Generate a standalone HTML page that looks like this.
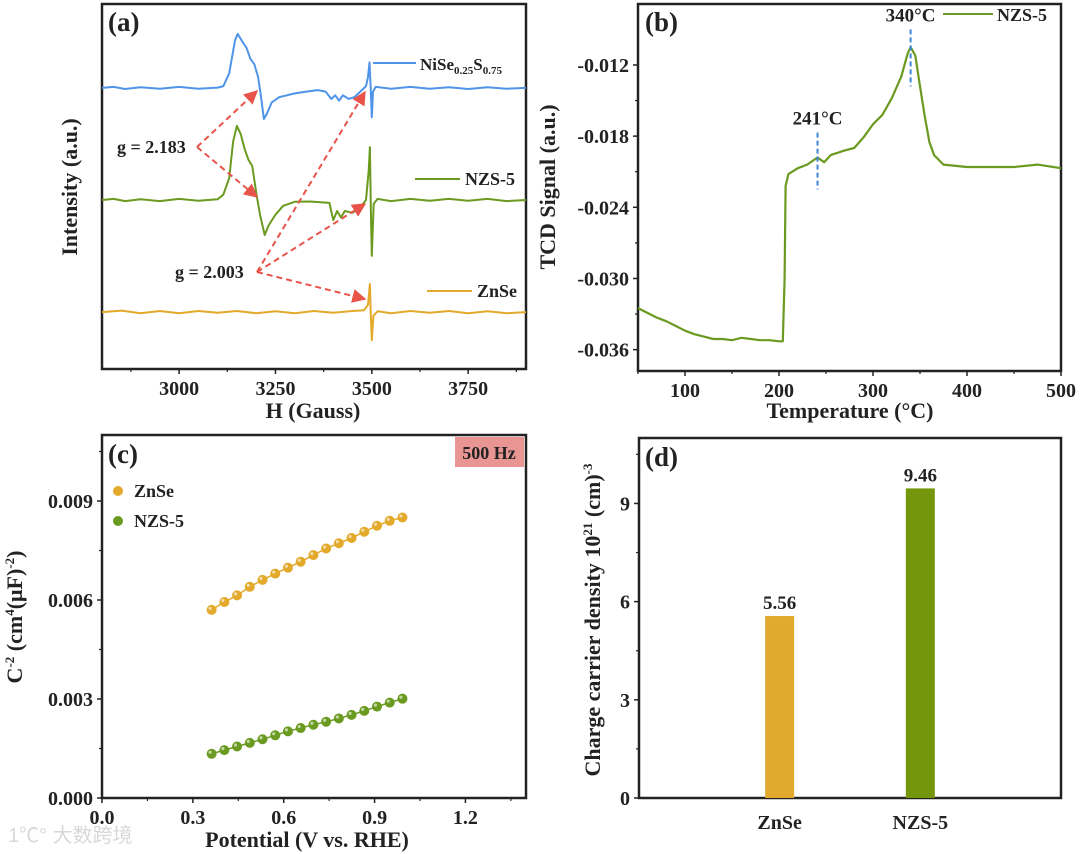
<!DOCTYPE html>
<html><head><meta charset="utf-8">
<style>
html,body{margin:0;padding:0;background:#fff;}
svg{display:block;font-family:"Liberation Serif",serif;font-weight:bold;}
</style></head>
<body>
<svg id="fig" width="1080" height="854" viewBox="0 0 1080 854" xmlns="http://www.w3.org/2000/svg">
<defs>
<marker id="arr" viewBox="0 0 10 10" refX="9" refY="5" markerWidth="7" markerHeight="7" orient="auto"><path d="M0,0 L10,5 L0,10 z" fill="#e8534a"/></marker>
</defs>
<text x="8" y="842" font-family="'Liberation Sans','Noto Sans CJK SC',sans-serif" font-size="20" font-weight="normal" fill="#d8d8d8">1℃° 大数跨境</text>
</svg>
<script>
// ---------- Panel (a) EPR data ----------
const eprFieldBlue=[2800,2830,2860,2900,2950,3000,3050,3100,3115,3130,3145,3152,3165,3175,3185,3195,3205,3212,3220,3228,3240,3260,3280,3300,3330,3360,3380,3395,3405,3415,3425,3440,3455,3470,3485,3490,3494,3497,3500,3503,3510,3550,3600,3650,3700,3750,3800,3850,3900];
const eprBlue=[0,0.3,-0.3,0.2,-0.2,0.3,-0.2,0.1,0.5,4,13,14.8,12.5,11,8,6.5,3,-2,-8.5,-7,-4,-2.5,-2,-1.5,-1,-0.6,-1,-3,-2,-3.5,-2,-3,-2.5,-1,0.5,3,7,0,-8,-1,0.3,-0.2,0.3,-0.2,0.2,-0.3,0.2,-0.2,0];
const eprFieldGreen=[2800,2830,2860,2900,2950,3000,3050,3100,3115,3130,3140,3150,3160,3170,3180,3190,3200,3210,3222,3232,3250,3270,3300,3340,3390,3400,3410,3420,3430,3450,3470,3485,3492,3495,3498,3500,3505,3515,3550,3600,3650,3700,3750,3800,3850,3900];
const eprGreen=[0,0.3,-0.3,0.2,-0.3,0.3,-0.2,0.2,1.5,6,16,20.3,18,14,11,9.3,2,-4,-9.6,-7,-4,-1.6,-0.5,-0.4,-0.8,-5.5,-3,-4.8,-3,-3.5,-2,0,8,14.5,-5,-15.3,-1,0.3,-0.3,0.3,-0.2,0.3,-0.2,0.3,-0.3,0];
const eprFieldOrange=[2800,2850,2900,2950,3000,3050,3100,3150,3200,3250,3300,3350,3400,3450,3480,3490,3495,3497,3500,3504,3515,3550,3600,3650,3700,3750,3800,3850,3900];
const eprOrange=[0,0.4,-0.3,0.3,-0.3,0.3,-0.2,0.3,-0.3,0.2,-0.3,0.3,-0.2,0.3,0.5,2,7.7,0,-7.7,-1,0.2,-0.3,0.3,-0.2,0.3,-0.3,0.2,-0.3,0];
const eprOffsets=[77,46.3,15.6];
const eprXTicks=[3000,3250,3500,3750];
// ---------- Panel (b) TCD ----------
const tcdT=[50,60,70,80,90,100,110,120,130,140,150,160,170,180,190,200,204,206,207,210,220,230,241,248,255,270,280,290,300,310,320,330,337,340,345,350,355,360,365,375,400,425,450,475,500];
const tcdSignal=[-0.0325,-0.0329,-0.0333,-0.0336,-0.0340,-0.0344,-0.0347,-0.0349,-0.0351,-0.0351,-0.0352,-0.0350,-0.0351,-0.0352,-0.0352,-0.0353,-0.0353,-0.030,-0.0222,-0.0212,-0.0207,-0.0204,-0.0198,-0.0202,-0.0196,-0.0192,-0.0190,-0.0181,-0.0170,-0.0162,-0.0148,-0.0130,-0.0110,-0.0105,-0.0112,-0.0138,-0.0163,-0.0185,-0.0196,-0.0204,-0.0206,-0.0206,-0.0206,-0.0204,-0.0207];
const tcdXTicks=[100,200,300,400,500];
const tcdYTicks=[-0.012,-0.018,-0.024,-0.030,-0.036];
const tcdPeaks=[241,340];
// ---------- Panel (c) Mott-Schottky ----------
const msPotential=[0.362,0.404,0.446,0.488,0.530,0.572,0.614,0.656,0.698,0.740,0.782,0.824,0.866,0.908,0.950,0.992];
const msZnSe=[0.00570,0.00594,0.00614,0.00640,0.00661,0.00680,0.00698,0.00716,0.00736,0.00756,0.00772,0.00788,0.00807,0.00825,0.00840,0.00850];
const msNZS=[0.00134,0.00145,0.00156,0.00167,0.00178,0.00190,0.00202,0.00212,0.00222,0.00231,0.00241,0.00252,0.00264,0.00277,0.00289,0.00301];
const msXTicks=[0.0,0.3,0.6,0.9,1.2];
const msYTicks=[0.000,0.003,0.006,0.009];
// ---------- Panel (d) bars ----------
const barCategories=["ZnSe","NZS-5"];
const barValues=[5.56,9.46];
const barLabels=["5.56","9.46"];
const barYTicks=[0,3,6,9];

const NS="http://www.w3.org/2000/svg";
const svg=document.getElementById('fig');
function mk(tag,attrs,parent){const e=document.createElementNS(NS,tag);for(const k in attrs)e.setAttribute(k,attrs[k]);(parent||svg).appendChild(e);return e;}
function txt(s,attrs,parent){const e=mk('text',attrs,parent);e.textContent=s;return e;}
function lin(d0,d1,r0,r1){return v=>r0+(v-d0)/(d1-d0)*(r1-r0);}

function frame(name,x0,y0,x1,y1){
  const g=mk('g',{});
  
  
  const r=mk('rect',{x:x0,y:y0,width:x1-x0,height:y1-y0,fill:'none',stroke:'#222','stroke-width':2.5},g);
  
  
  return g;
}
function xTicks(g,sx,ticks,minor,y,fmt,name){
  ticks.forEach(t=>{mk('line',{x1:sx(t),x2:sx(t),y1:y,y2:y+5,stroke:'#222','stroke-width':1.5},g);
    const l=txt(fmt(t),{x:sx(t),y:y+26,'font-size':20,'text-anchor':'middle',fill:'#222'},g);
    
    });
  minor.forEach(t=>mk('line',{x1:sx(t),x2:sx(t),y1:y,y2:y+3,stroke:'#222','stroke-width':1.2},g));
}
function yTicks(g,sy,ticks,minor,x,fmt,name){
  ticks.forEach(t=>{mk('line',{x1:x-5,x2:x,y1:sy(t),y2:sy(t),stroke:'#222','stroke-width':1.5},g);
    const l=txt(fmt(t),{x:x-9,y:sy(t)+7,'font-size':20,'text-anchor':'end',fill:'#222'},g);
    
    });
  minor.forEach(t=>mk('line',{x1:x-3,x2:x,y1:sy(t),y2:sy(t),stroke:'#222','stroke-width':1.2},g));
}
function poly(g,xs,ys,sx,sy,color,w,name){
  const p=mk('polyline',{points:xs.map((x,i)=>sx(x).toFixed(1)+','+sy(ys[i]).toFixed(1)).join(' '),fill:'none',stroke:color,'stroke-width':w,'stroke-linejoin':'round'},g);
  
  
  return p;
}
function label(g,s,x,y,size,name,extra){const e=txt(s,Object.assign({x:x,y:y,'font-size':size,fill:'#222'},extra||{}),g);
  
  return e;}

// ===== Panel A =====
(function(){
  const X0=102,X1=526,Y0=4,Y1=369;
  const g=frame('panel-a-epr',X0,Y0,X1,Y1);
  const sx=lin(2800,3900,X0,X1), sy=lin(0,100,Y1,Y0);
  xTicks(g,sx,eprXTicks,[2875,3125,3375,3625,3875],Y1,t=>String(t),'x-tick-label');
  poly(g,eprFieldBlue,eprBlue.map(v=>v+eprOffsets[0]),sx,sy,'#4f94e8',2,'series-nise-s');
  poly(g,eprFieldGreen,eprGreen.map(v=>v+eprOffsets[1]),sx,sy,'#6a9a1f',2,'series-nzs-5');
  poly(g,eprFieldOrange,eprOrange.map(v=>v+eprOffsets[2]),sx,sy,'#e3a92a',2,'series-znse');
  label(g,'(a)',108,31,27,'panel-label');
  mk('line',{x1:373,x2:416,y1:63,y2:63,stroke:'#4f94e8','stroke-width':2},g);
  const t1=label(g,'NiSe',420,70,17,'legend-nise-s');
  const s1=mk('tspan',{'font-size':11,dy:4},t1);s1.textContent='0.25';
  const s2=mk('tspan',{'font-size':17,dy:-4},t1);s2.textContent='S';
  const s3=mk('tspan',{'font-size':11,dy:4},t1);s3.textContent='0.75';
  mk('line',{x1:415,x2:460,y1:179,y2:179,stroke:'#6a9a1f','stroke-width':2},g);
  label(g,'NZS-5',465,185,18,'legend-nzs-5');
  mk('line',{x1:427,x2:472,y1:291,y2:291,stroke:'#e3a92a','stroke-width':2},g);
  label(g,'ZnSe',477,297,18,'legend-znse');
  label(g,'g = 2.183',117,153,18,'annotation-g-2183');
  label(g,'g = 2.003',175,278,18,'annotation-g-2003');
  const arrows=[[197,147,257,91],[197,147,257,197],[257,272,365,92],[257,272,365,204],[257,272,365,299]];
  arrows.forEach(a=>{const l=mk('line',{x1:a[0],y1:a[1],x2:a[2],y2:a[3],stroke:'#e8534a','stroke-width':2,'stroke-dasharray':'6,4','marker-end':'url(#arr)'},g);
    
    });
  label(g,'H (Gauss)',313,418,22,'x-axis-title',{'text-anchor':'middle'});
  label(g,'Intensity (a.u.)',0,0,22,'y-axis-title',{'text-anchor':'middle',transform:'translate(77,187) rotate(-90)'});
})();

// ===== Panel B =====
(function(){
  const X0=638,X1=1061,Y0=4,Y1=371;
  const g=frame('panel-b-tcd',X0,Y0,X1,Y1);
  const sx=lin(50,500,X0,X1), sy=lin(-0.0378,-0.00686,Y1,Y0);
  xTicks(g,sx,tcdXTicks,[50,150,250,350,450],Y1,t=>String(t),'x-tick-label');
  yTicks(g,sy,tcdYTicks,[-0.015,-0.021,-0.027,-0.033],X0,t=>t.toFixed(3),'y-tick-label');
  poly(g,tcdT,tcdSignal,sx,sy,'#6a9a1f',2.2,'series-nzs-5-tcd');
  const dash=[[sy(-0.0177),sy(-0.0225)],[sy(-0.0090),sy(-0.0138)]];
  tcdPeaks.forEach((p,i)=>{const l=mk('line',{x1:sx(p),x2:sx(p),y1:dash[i][0],y2:dash[i][1],stroke:'#3b86d8','stroke-width':2,'stroke-dasharray':'5,3'},g);
    
    
    label(g,p+'°C',sx(p),dash[i][0]-8,19,'peak-label',{'text-anchor':'middle'});});
  label(g,'(b)',645,31,27,'panel-label');
  mk('line',{x1:943,x2:993,y1:14,y2:14,stroke:'#6a9a1f','stroke-width':2},g);
  label(g,'NZS-5',997,21,18,'legend-nzs-5');
  label(g,'Temperature (°C)',850,418,22,'x-axis-title',{'text-anchor':'middle'});
  label(g,'TCD Signal (a.u.)',0,0,22,'y-axis-title',{'text-anchor':'middle',transform:'translate(555,187) rotate(-90)'});
})();

// ===== Panel C =====
(function(){
  const X0=102,X1=526,Y0=435,Y1=798;
  const g=frame('panel-c-mott-schottky',X0,Y0,X1,Y1);
  const sx=lin(0,1.4,X0,X1), sy=lin(0,0.011,Y1,Y0);
  xTicks(g,sx,msXTicks,[0.15,0.45,0.75,1.05,1.35],Y1,t=>t.toFixed(1),'x-tick-label');
  yTicks(g,sy,msYTicks,[0.0015,0.0045,0.0075,0.0105],X0,t=>t.toFixed(3),'y-tick-label');
  [[msZnSe,'#e3a92a','series-znse'],[msNZS,'#6a9a1f','series-nzs-5']].forEach(s=>{
    poly(g,msPotential,s[0],sx,sy,s[1],1.5,s[2]+'-fit');
    msPotential.forEach((x,i)=>{const c=mk('circle',{cx:sx(x),cy:sy(s[0][i]),r:5,fill:s[1]},g);
      
      
      mk('circle',{cx:sx(x)-1.5,cy:sy(s[0][i])-1.5,r:1.6,fill:'#fff',opacity:0.6},g);});
  });
  const box=mk('rect',{x:455,y:437,width:69,height:30,fill:'#e89593'},g);
  
  
  label(g,'500 Hz',489,459,18,'frequency-label',{'text-anchor':'middle'});
  label(g,'(c)',108,463,27,'panel-label');
  mk('circle',{cx:118,cy:491,r:5,fill:'#e3a92a'},g);
  label(g,'ZnSe',134,497,18,'legend-znse');
  mk('circle',{cx:118,cy:521,r:5,fill:'#6a9a1f'},g);
  label(g,'NZS-5',134,527,18,'legend-nzs-5');
  label(g,'Potential (V vs. RHE)',307,847,22,'x-axis-title',{'text-anchor':'middle'});
  const yt=label(g,'C',0,0,22,'y-axis-title',{'text-anchor':'middle',transform:'translate(22,617) rotate(-90)'});
  const a=mk('tspan',{'font-size':13,dy:-8},yt);a.textContent='-2';
  const b=mk('tspan',{'font-size':22,dy:8},yt);b.textContent=' (cm';
  const c=mk('tspan',{'font-size':13,dy:-8},yt);c.textContent='4';
  const d=mk('tspan',{'font-size':22,dy:8},yt);d.textContent='(μF)';
  const e=mk('tspan',{'font-size':13,dy:-8},yt);e.textContent='-2';
  const f=mk('tspan',{'font-size':22,dy:8},yt);f.textContent=')';
})();

// ===== Panel D =====
(function(){
  const X0=639,X1=1061,Y0=438,Y1=798;
  const g=frame('panel-d-carrier-density',X0,Y0,X1,Y1);
  const sx=lin(0,3,X0,X1), sy=lin(0,11,Y1,Y0);
  yTicks(g,sy,barYTicks,[1.5,4.5,7.5,10.5],X0,t=>String(t),'y-tick-label');
  const colors=['#e1a92e','#74960a'];
  barCategories.forEach((c,i)=>{
    const cx=sx(i+1),w=29;
    const r=mk('rect',{x:cx-w/2,y:sy(barValues[i]),width:w,height:sy(0)-sy(barValues[i]),fill:colors[i]},g);
    
    
    label(g,barLabels[i],cx,sy(barValues[i])-7,19,'bar-value-label',{'text-anchor':'middle'});
    label(g,c,cx,Y1+31,20,'x-tick-label',{'text-anchor':'middle'});
  });
  label(g,'(d)',645,466,27,'panel-label');
  const yt=label(g,'Charge carrier density 10',0,0,22,'y-axis-title',{'text-anchor':'middle',transform:'translate(600,620) rotate(-90)'});
  const a=mk('tspan',{'font-size':13,dy:-8},yt);a.textContent='21';
  const b=mk('tspan',{'font-size':22,dy:8},yt);b.textContent=' (cm)';
  const c=mk('tspan',{'font-size':13,dy:-8},yt);c.textContent='-3';
})();
</script>
</body></html>
